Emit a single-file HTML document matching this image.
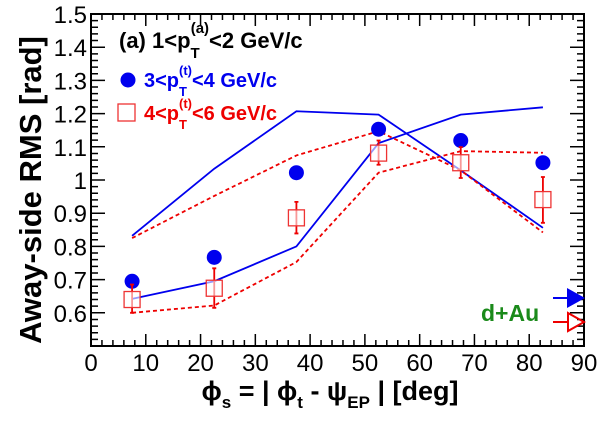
<!DOCTYPE html>
<html><head><meta charset="utf-8"><style>
html,body{margin:0;padding:0;background:#fff;}
svg{display:block;font-family:"Liberation Sans",Arial,sans-serif;}
</style></head><body>
<svg id="chart" width="600" height="424" viewBox="0 0 600 424">
<g id="axes"></g>
<g id="series"></g>
<text x="119" y="48" font-size="22" font-weight="bold" fill="#000">(a) 1&lt;p<tspan font-size="15" dy="10">T</tspan><tspan font-size="15" dx="-9" dy="-25">(a)</tspan><tspan dy="15">&lt;2 GeV/c</tspan></text>
<circle cx="128" cy="80" r="7.5" fill="#0000ee"/>
<text x="144" y="87" font-size="20" font-weight="bold" fill="#0000ee">3&lt;p<tspan font-size="13" dy="9">T</tspan><tspan font-size="13" dx="-8" dy="-21">(t)</tspan><tspan dy="12">&lt;4 GeV/c</tspan></text>
<rect x="118" y="104" width="17" height="17" fill="none" stroke="#ee3333" stroke-width="1.3"/>
<text x="144" y="120" font-size="20" font-weight="bold" fill="#ee0000">4&lt;p<tspan font-size="13" dy="9">T</tspan><tspan font-size="13" dx="-8" dy="-21">(t)</tspan><tspan dy="12">&lt;6 GeV/c</tspan></text>
<text x="481" y="321" font-size="23" font-weight="bold" fill="#1a8a1a">d+Au</text>
<line x1="553" y1="298" x2="568" y2="298" stroke="#0000ee" stroke-width="2"/>
<polygon points="567,288 585,298 567,308" fill="#0000ee"/>
<line x1="553" y1="322" x2="568" y2="322" stroke="#ee0000" stroke-width="2"/>
<polygon points="568,313 584,322 568,331" fill="none" stroke="#ee0000" stroke-width="2"/>
<text transform="translate(41,190) rotate(-90)" text-anchor="middle" font-size="31" font-weight="bold">Away-side RMS [rad]</text>
<text x="330" y="400" text-anchor="middle" font-size="27" font-weight="bold">ϕ<tspan font-size="17" dy="8">s</tspan><tspan dy="-8"> = | ϕ</tspan><tspan font-size="17" dy="8">t</tspan><tspan dy="-8"> - ψ</tspan><tspan font-size="17" dy="8">EP</tspan><tspan dy="-8"> |  [deg]</tspan></text>
</svg>
<script>
const xCats=[7.5,22.5,37.5,52.5,67.5,82.5];
const blueVals=[0.695,0.767,1.022,1.153,1.119,1.052];
const redVals=[0.640,0.674,0.886,1.081,1.052,0.941];
const redErrHi=[0.685,0.734,0.934,1.119,1.099,1.009];
const redErrLo=[0.600,0.615,0.839,1.046,1.006,0.871];
const blueBandA=[0.832,1.034,1.207,1.197,1.029,0.856];
const blueBandB=[0.642,0.695,0.800,1.111,1.197,1.219];
const redBandA=[0.825,0.952,1.074,1.147,1.029,0.842];
const redBandB=[0.600,0.622,0.753,1.022,1.087,1.082];
const xTicks=[0,10,20,30,40,50,60,70,80,90];
const yTicks=[0.6,0.7,0.8,0.9,1,1.1,1.2,1.3,1.4,1.5];
const yTickLabels=["0.6","0.7","0.8","0.9","1","1.1","1.2","1.3","1.4","1.5"];

const L=91,R=584,T=14,B=346,xMin=0,xMax=90,yMin=0.5,yMax=1.5;
const X=v=>L+(v-xMin)/(xMax-xMin)*(R-L);
const Y=v=>B-(v-yMin)/(yMax-yMin)*(B-T);
const NS='http://www.w3.org/2000/svg';
function mk(tag,attrs,parent){const e=document.createElementNS(NS,tag);for(const k in attrs)e.setAttribute(k,attrs[k]);parent.appendChild(e);return e;}
const ax=document.getElementById('axes'),se=document.getElementById('series');

const frame=mk('rect',{x:L,y:T,width:R-L,height:B-T,fill:'none',stroke:'#000','stroke-width':2},ax);


let tp='';
for(let v=0;v<=90;v+=2){const x=X(v),len=(v%10===0)?12:6;tp+=`M${x},${B}v${-len}M${x},${T}v${len}`;}
for(let i=0;i<=50;i++){const v=0.5+i*0.02,y=Y(v),len=(i%5===0)?14:7;tp+=`M${L},${y}h${len}M${R},${y}h${-len}`;}
const ticks=mk('path',{d:tp,stroke:'#000','stroke-width':1.5,fill:'none'},ax);


xTicks.forEach(v=>{const t=mk('text',{x:X(v),y:B+25,'text-anchor':'middle','font-size':24},ax);t.textContent=String(v);

});
yTicks.forEach((v,i)=>{const t=mk('text',{x:L-4,y:Y(v)+9,'text-anchor':'end','font-size':24},ax);t.textContent=yTickLabels[i];

});

function line(vals,color,dash,name){const d=vals.map((v,i)=>(i?'L':'M')+X(xCats[i])+','+Y(v)).join('');
const p=mk('path',{d:d,fill:'none',stroke:color,'stroke-width':1.8,'stroke-dasharray':dash||'none'},se);

}
line(blueBandA,'#0000ee',null,'blue-band-line-a');
line(blueBandB,'#0000ee',null,'blue-band-line-b');
line(redBandA,'#ee0000','4,3','red-band-line-a');
line(redBandB,'#ee0000','4,3','red-band-line-b');

xCats.forEach((c,i)=>{
 const x=X(c);
 const c1=mk('circle',{cx:x,cy:Y(blueVals[i]),r:7.5,fill:'#0000ee'},se);
 
 
 const e=mk('path',{d:`M${x},${Y(redErrHi[i])}V${Y(redErrLo[i])}M${x-2},${Y(redErrHi[i])}h4M${x-2},${Y(redErrLo[i])}h4`,stroke:'#ee0000','stroke-width':1.8,fill:'none'},se);
 
 
 const s=mk('rect',{x:x-8,y:Y(redVals[i])-8,width:16,height:16,fill:'#fff','fill-opacity':0.6,stroke:'#ee3333','stroke-width':1.3},se);
 
 
});
</script>
</body></html>
